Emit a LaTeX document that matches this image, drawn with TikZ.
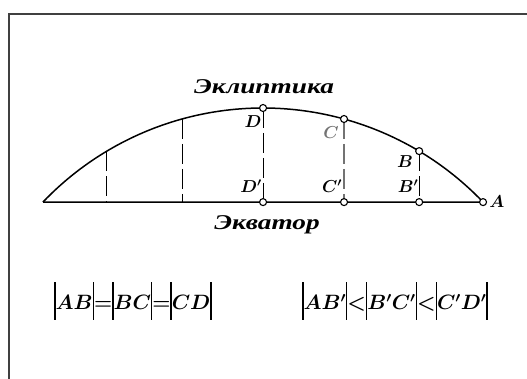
\documentclass[tikz,border=0pt]{standalone}
\usepackage{fontspec}
\newfontfamily\rusfont[FakeStretch=1.3]{Liberation Serif}
\usetikzlibrary{calc}

\newcommand\absbar{\rule[-10pt]{1.4pt}{38pt}}

\tikzset{
  line/.style={line width=1.5pt},
  dropline/.style={line width=1pt, dash pattern=on 20pt off 5pt},
  dot/.style={circle, draw, fill=white, line width=1.1pt, inner sep=0pt, minimum size=7pt},
  ptlabel/.style={font=\fontsize{18}{22}\selectfont\boldmath, inner sep=0pt},
  caption/.style={font=\rusfont\bfseries\itshape\fontsize{21}{24}\selectfont, inner sep=0pt},
  formula/.style={font=\fontsize{22}{26}\selectfont\boldmath, inner sep=0pt}
}

\begin{document}
\begin{tikzpicture}[x=1pt,y=1pt]
    \useasboundingbox (0,0) rectangle (527,379);

    % frame: only the top and the left side show
    \draw[line width=2pt, black!75] (527,365) -- (9,365) -- (9,0);

    % circle of the ecliptic, cut in six equal arcs from A
    \coordinate (O) at (263,-33.4);
    \def\rad{304.4}
    \foreach \n [count=\i from 0] in {A,B,C,D,F,G,H}
        \coordinate (\n) at ($(O)+({43.7+15.43*\i}:\rad pt)$);

    % feet on the equator
    \coordinate (Bp) at (B |- A);
    \coordinate (Cp) at (C |- A);
    \coordinate (Dp) at (D |- A);
    \coordinate (Fp) at (F |- A);
    \coordinate (Gp) at (G |- A);

    % ecliptic and equator
    \draw[line] (A) arc[start angle=43.7, end angle=136.28, radius=\rad pt];
    \draw[line] (H) -- (A);

    % drop lines
    \draw[dropline] (G) -- (Gp);
    \draw[dropline] (F) -- (Fp);
    \draw[dropline] (D) -- (Dp);
    \draw[dropline, black!55, line width=1.5pt] (C) -- (Cp);
    \draw[dropline] (B) -- (Bp);

    % points
    \foreach \p in {A,B,Bp,C,Cp,D,Dp}
        \node[dot] (dot\p) at (\p) {};

    % labels
    \node[ptlabel] (labA) at (497,177) {$A$};
    \node[ptlabel] (labB) at (405,217) {$B$};
    \node[ptlabel] (labBp) at (408,193) {$B'$};
    \node[ptlabel, black!55] (labC) at (331,246) {$C$};
    \node[ptlabel] (labCp) at (332,193) {$C'$};
    \node[ptlabel] (labD) at (253,257) {$D$};
    \node[ptlabel] (labDp) at (251,193) {$D'$};

    \node[caption] (ecl) at (264,292) {Эклиптика};
    \node[caption] (equ) at (267,154) {Экватор};

    % relations
    \node[formula] (eq) at (133,78)
        {$\absbar AB\absbar{=}\absbar BC\absbar{=}\absbar CD\absbar$};
    \node[formula] (less) at (395,78)
        {$\absbar AB'\absbar{<}\absbar B'C'\absbar{<}\absbar C'D'\absbar$};

\end{tikzpicture}
\end{document}
